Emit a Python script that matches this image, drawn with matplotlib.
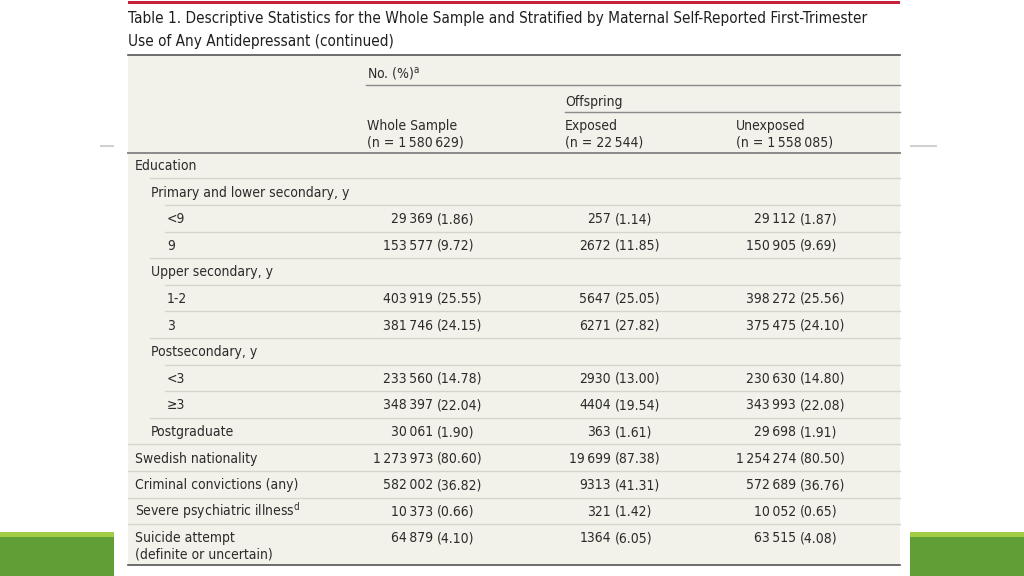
import matplotlib
matplotlib.use("Agg")
import matplotlib.pyplot as plt
from matplotlib.patches import Rectangle

plt.rcParams['font.family'] = ['DejaVu Sans']
plt.rcParams['font.stretch'] = 'condensed'
plt.rcParams['mathtext.fontset'] = 'dejavusans'

# ---------------- data ----------------
title_lines = ["Table 1. Descriptive Statistics for the Whole Sample and Stratified by Maternal Self-Reported First-Trimester",
               "Use of Any Antidepressant (continued)"]
col_headers = ["Whole Sample", "Exposed", "Unexposed"]
col_n = [1580629, 22544, 1558085]
row_labels = ["Education", "Primary and lower secondary, y", "<9", "9", "Upper secondary, y",
              "1-2", "3", "Postsecondary, y", "<3", "\u22653", "Postgraduate",
              "Swedish nationality", "Criminal convictions (any)",
              r"Severe psychiatric illness$^{\mathrm{d}}$",
              "Suicide attempt\n(definite or uncertain)"]
row_levels = [0, 1, 2, 2, 1, 2, 2, 1, 2, 2, 1, 0, 0, 0, 0]
whole_n = [None, None, 29369, 153577, None, 403919, 381746, None, 233560, 348397, 30061,
           1273973, 582002, 10373, 64879]
whole_pct = [None, None, 1.86, 9.72, None, 25.55, 24.15, None, 14.78, 22.04, 1.90,
             80.60, 36.82, 0.66, 4.10]
exposed_n = [None, None, 257, 2672, None, 5647, 6271, None, 2930, 4404, 363,
             19699, 9313, 321, 1364]
exposed_pct = [None, None, 1.14, 11.85, None, 25.05, 27.82, None, 13.00, 19.54, 1.61,
               87.38, 41.31, 1.42, 6.05]
unexposed_n = [None, None, 29112, 150905, None, 398272, 375475, None, 230630, 343993, 29698,
               1254274, 572689, 10052, 63515]
unexposed_pct = [None, None, 1.87, 9.69, None, 25.56, 24.10, None, 14.80, 22.08, 1.91,
                 80.50, 36.76, 0.65, 4.08]

TS = "\u2009"


def fmt_n(n):
    if n >= 10000:
        return f"{n:,}".replace(",", TS)
    return str(n)


# ---------------- figure ----------------
W, H = 1024, 576
fig = plt.figure(figsize=(W / 100, H / 100), dpi=100)
ax = fig.add_axes([0, 0, 1, 1])
ax.set_xlim(0, W)
ax.set_ylim(H, 0)
ax.axis('off')

TXT = '#2b2b2b'
FS = 10.0
L, R = 128, 900

# decorative elements
ax.add_patch(Rectangle((0, 532), 114, 44, color='#5f9f35', lw=0))
ax.add_patch(Rectangle((0, 532), 114, 5, color='#a3cc45', lw=0))
ax.add_patch(Rectangle((910, 532), 114, 44, color='#5f9f35', lw=0))
ax.add_patch(Rectangle((910, 532), 114, 5, color='#a3cc45', lw=0))
ax.plot([100, 114], [146, 146], color='#d0d0d0', lw=1.5, solid_capstyle='butt')
ax.plot([910, 937], [146, 146], color='#d0d0d0', lw=1.5, solid_capstyle='butt')

# top red rule and title
ax.add_patch(Rectangle((L, 1), R - L, 3, color='#c8203a', lw=0))
ax.text(L, 23, title_lines[0], fontsize=11.0, color='#1f1f1f', va='baseline', ha='left')
ax.text(L, 46, title_lines[1], fontsize=11.0, color='#1f1f1f', va='baseline', ha='left')

# table background
ax.add_patch(Rectangle((L, 55), R - L, 510, color='#f2f1ea', lw=0))
ax.plot([L, R], [55, 55], color='#555555', lw=1.2)
ax.plot([L, R], [565, 565], color='#555555', lw=1.2)

# header
col_x_left = [367, 565, 736]
ax.text(367, 78, r"No. (%)$^{\mathrm{a}}$", fontsize=FS, color=TXT, va='baseline')
ax.plot([366, R], [85, 85], color='#8a8a8a', lw=1.0)
ax.text(565, 106, "Offspring", fontsize=FS, color=TXT, va='baseline')
ax.plot([565, R], [112, 112], color='#8a8a8a', lw=1.0)
for x, h, n in zip(col_x_left, col_headers, col_n):
    ax.text(x, 130, h, fontsize=FS, color=TXT, va='baseline')
    ax.text(x, 146, f"(n = {fmt_n(n)})", fontsize=FS, color=TXT, va='baseline')
ax.plot([L, R], [153, 153], color='#8a8a8a', lw=1.4)

# body rows
indent_x = [135, 151, 167]
sep_x = [L, 150, 165]
row_h = 26.6
paren_x = [437, 615, 800]
cols = [(whole_n, whole_pct), (exposed_n, exposed_pct), (unexposed_n, unexposed_pct)]
for i, (lab, lev) in enumerate(zip(row_labels, row_levels)):
    yc = 165 + row_h * i
    yb = yc + 5
    if "\n" in lab:
        l1, l2 = lab.split("\n")
        ax.text(indent_x[lev], yb, l1, fontsize=FS, color=TXT, va='baseline')
        ax.text(indent_x[lev], yb + 16, l2, fontsize=FS, color=TXT, va='baseline')
    else:
        ax.text(indent_x[lev], yb, lab, fontsize=FS, color=TXT, va='baseline')
    for (ns, ps), px in zip(cols, paren_x):
        if ns[i] is None:
            continue
        ax.text(px - 4, yb, fmt_n(ns[i]), fontsize=FS, color=TXT, va='baseline', ha='right')
        ax.text(px, yb, f"({ps[i]:.2f})", fontsize=FS, color=TXT, va='baseline', ha='left')
    if i < len(row_labels) - 1:
        ys = 178.3 + row_h * i
        ax.plot([sep_x[row_levels[i + 1]], R], [ys, ys], color='#d6d5cc', lw=1.0)

fig.savefig("out.png", dpi=100)
